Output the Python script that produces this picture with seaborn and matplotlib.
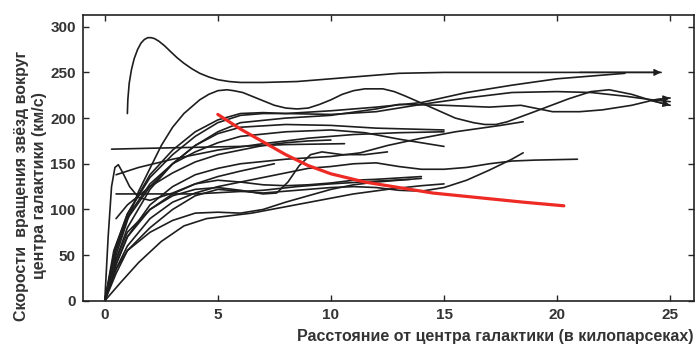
import pandas as pd
import numpy as np
import matplotlib.pyplot as plt
import seaborn as sns

# rotation curves of spiral galaxies (kpc, km/s)
r_01 = [1.0, 1.02, 1.08, 1.18, 1.3, 1.45, 1.6, 1.75, 1.9, 2.05, 2.2, 2.4, 2.65, 2.9, 3.2, 3.5, 3.85, 4.2, 4.6,
        5.0, 5.5, 6.0, 7.0, 8.5, 10, 11.5, 13, 15, 18, 21, 24.6]
v_01 = [205, 220, 238, 253, 265, 275, 282, 286, 288, 288, 287, 284, 279, 273, 266, 260, 254, 249, 245,
        242, 240, 239, 239, 240, 243, 246, 249, 250, 250, 250, 250]

r_02 = [0, 0.5, 1.0, 1.5, 2.0, 2.5, 3.0, 3.5, 4.2, 4.6, 5.0, 5.4, 5.7, 6.1, 6.5, 7.0, 7.5, 8.0, 8.5, 9.0, 9.5, 10.0,
        10.5, 11.0, 11.5, 12.3, 12.8, 13.3, 14.5, 15.5, 16.3, 16.8, 17.3, 17.8, 19.0, 20.5, 21.5, 22.3, 23.3, 24.2, 25.0]
v_02 = [0, 50, 88, 120, 145, 170, 190, 205, 220, 226, 230, 231, 230, 228, 224, 219, 214, 211, 210, 211, 215, 220,
        226, 230, 232, 232, 229, 224, 211, 200, 195, 193, 193, 196, 207, 221, 229, 231, 226, 219, 214]

r_03 = [0, 0.4, 1, 2, 3, 4, 5, 6, 7, 8, 10, 12, 14, 16, 18, 20, 21.5, 23, 24.2, 25.0]
v_03 = [0, 55, 95, 138, 165, 185, 198, 205, 206, 205, 204, 207, 215, 222, 228, 229, 228, 224, 220, 218]

r_04 = [0, 0.5, 1, 2, 3, 4, 5, 6, 8, 10, 12, 13, 15, 17, 18.4, 19.8, 21, 22, 23.3, 24.3, 25.0]
v_04 = [0, 45, 80, 122, 150, 170, 185, 195, 200, 203, 210, 215, 214, 212, 214, 207, 207, 209, 214, 220, 222]

r_05 = [0, 0.5, 1, 2, 3, 4, 5, 6, 7, 8, 10, 12, 14, 16, 18, 20, 21.5, 23]
v_05 = [0, 60, 95, 135, 160, 180, 195, 203, 205, 205, 208, 212, 217, 228, 236, 243, 246, 249]

r_06 = [0, 0.5, 1, 2, 3, 4, 5, 6, 8, 10, 12, 15]
v_06 = [0, 55, 90, 125, 150, 170, 183, 190, 193, 192, 189, 187]

r_07 = [0.3, 2, 4, 6, 8, 10.6]
v_07 = [166, 167, 168, 169, 171, 172]

r_08 = [0, 0.4, 1, 2, 3, 4, 5, 6, 8, 10, 11.5, 13, 15]
v_08 = [0, 50, 92, 128, 150, 163, 173, 180, 185, 187, 184, 177, 169]

r_09 = [0, 0.5, 1, 2, 3, 4, 5, 6, 8, 10, 11.3, 12.5, 14, 15.5, 17.5, 18.5]
v_09 = [0, 40, 70, 105, 125, 138, 145, 150, 155, 158, 162, 170, 178, 185, 192, 196]

r_10 = [0, 0.5, 1, 2, 3, 4, 5, 6, 7, 8, 9, 10, 11, 12, 13, 14, 15, 16, 17, 18, 19, 20.9]
v_10 = [0, 35, 60, 90, 108, 118, 125, 130, 135, 140, 145, 147, 150, 151, 147, 144, 144, 146, 150, 153, 154, 155]

r_11 = [0, 0.5, 1, 2, 3, 4, 5, 6, 7, 8, 9, 10, 11, 12, 13, 14, 15, 16, 17, 18, 18.5]
v_11 = [0, 30, 55, 80, 100, 115, 122, 120, 118, 120, 122, 124, 125, 124, 121, 120, 124, 132, 143, 155, 162]

r_12 = [0, 0.5, 1, 2, 3, 4, 5, 6, 7, 8, 9, 10, 11, 12, 14]
v_12 = [0, 40, 70, 100, 117, 128, 132, 130, 127, 126, 127, 129, 132, 133, 136]

r_13 = [0, 0.7, 1.5, 2.5, 3.5, 4.5, 5.5, 6.5, 8, 9.5, 11, 12.5, 14, 15]
v_13 = [0, 20, 42, 65, 82, 90, 93, 96, 103, 110, 117, 122, 126, 128]

r_14 = [0, 0.5, 1, 2, 3, 4, 5, 6, 7, 8, 9, 10, 11, 12, 13, 14]
v_14 = [0, 35, 55, 75, 88, 96, 97, 96, 100, 108, 115, 122, 127, 130, 132, 134]

r_15 = [0, 0.5, 1, 2, 3, 4, 5, 6, 7, 7.6, 8.1, 8.6, 9.1, 9.6, 10.5, 11.5, 12.5]
v_15 = [0, 45, 75, 100, 115, 122, 124, 121, 117, 118, 130, 148, 160, 163, 160, 160, 163]

r_16 = [0.5, 2, 4, 5.5, 7, 8.5, 10, 12, 13.5]
v_16 = [117, 117, 117, 119, 121, 125, 128, 131, 133]

r_17 = [0.5, 1, 2, 3, 4, 5, 6, 7, 8, 9, 10]
v_17 = [90, 105, 125, 140, 152, 160, 165, 170, 173, 175, 176]

r_18 = [0, 0.15, 0.3, 0.45, 0.6, 0.8, 1.1, 1.5, 2.0, 3.0, 4.0, 5.0, 6.0, 7.5]
v_18 = [0, 70, 125, 146, 149, 140, 125, 113, 110, 118, 128, 136, 142, 150]

r_19 = [0.5, 1.5, 3, 5, 7, 9, 11, 13, 15]
v_19 = [138, 146, 155, 165, 172, 178, 182, 184, 185]

# keplerian fall-off expected from visible mass
r_kepler = [5.0, 6.0, 7.0, 8.0, 9.0, 10.0, 11.5, 13.0, 14.5, 16.5, 18.5, 20.3]
v_kepler = [204, 188, 174, 160, 148, 139, 130, 124, 118, 113, 108, 104]

curves = [(r_01, v_01), (r_02, v_02), (r_03, v_03), (r_04, v_04), (r_05, v_05),
          (r_06, v_06), (r_07, v_07), (r_08, v_08), (r_09, v_09), (r_10, v_10),
          (r_11, v_11), (r_12, v_12), (r_13, v_13), (r_14, v_14), (r_15, v_15),
          (r_16, v_16), (r_17, v_17), (r_18, v_18), (r_19, v_19)]

frames = []
for i, (r, v) in enumerate(curves):
    frames.append(pd.DataFrame({"r": r, "v": v, "galaxy": f"g{i + 1:02d}"}))
df = pd.concat(frames, ignore_index=True)
kep = pd.DataFrame({"r": r_kepler, "v": v_kepler})

sns.set_style("ticks")
plt.rcParams["font.family"] = ["Liberation Sans", "DejaVu Sans"]

fig, ax = plt.subplots(figsize=(6.96, 3.45), dpi=100)
fig.subplots_adjust(left=0.119, right=0.997, top=0.957, bottom=0.128)

n = df["galaxy"].nunique()
sns.lineplot(data=df, x="r", y="v", hue="galaxy", palette=["#1e1e1e"] * n,
             estimator=None, linewidth=1.2, legend=False, ax=ax)
sns.lineplot(data=kep, x="r", y="v", color="#ee2a24", linewidth=2.3,
             estimator=None, ax=ax)

# arrow heads on curves that continue past the plotted range
for r, v in [(r_01, v_01), (r_02, v_02), (r_04, v_04)]:
    ax.annotate("", xy=(r[-1], v[-1]), xytext=(r[-2], v[-2]),
                arrowprops=dict(arrowstyle="-|>", color="#1e1e1e", lw=1.0,
                                mutation_scale=10, shrinkA=0, shrinkB=0))

ax.set_xlim(-0.97, 26.05)
ax.set_ylim(0, 313)
ax.set_xticks([0, 5, 10, 15, 20, 25])
ax.set_yticks([0, 50, 100, 150, 200, 250, 300])
ax.tick_params(direction="in", length=4, width=1, top=True, right=True,
               labelsize=11, labelcolor="#333333", pad=5)
for lab in ax.get_xticklabels() + ax.get_yticklabels():
    lab.set_fontweight("bold")
for s in ax.spines.values():
    s.set_linewidth(1.2)
    s.set_color("#222222")

ax.set_xlabel("Расстояние от центра галактики (в килопарсеках)", loc="right",
              fontsize=11.5, fontweight="bold", color="#333333", labelpad=5)
ax.set_ylabel("Скорости  вращения звёзд вокруг\nцентра галактики (км/с)",
              fontsize=11.5, fontweight="bold", color="#333333",
              linespacing=1.25)
ax.yaxis.set_label_coords(-0.058, 0.402)

plt.savefig("out.png", dpi=100)
